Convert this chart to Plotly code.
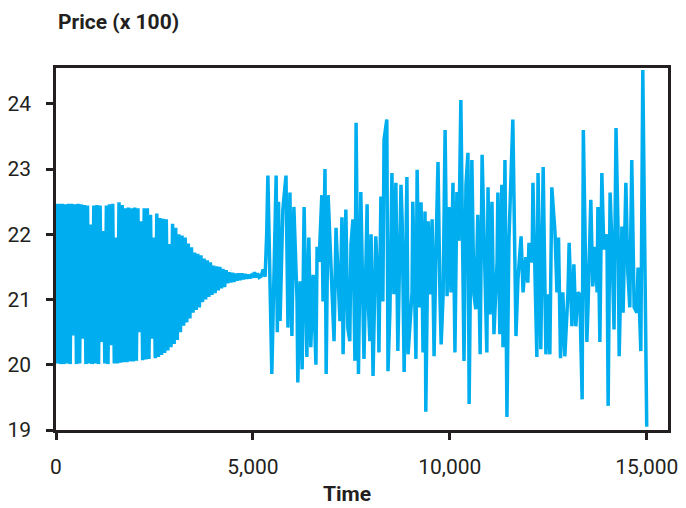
import numpy as np
import plotly.graph_objects as go

# ---- dense oscillating phase (0 .. ~5160): upper / lower swing values, step 80 time units
dense_step = 80
dense_hi = [22.47, 22.47, 22.47, 22.46, 22.47, 22.47, 22.46, 22.47, 22.46, 22.45,
            22.44, 22.15, 22.44, 22.45, 22.44, 22.05, 22.44, 22.46, 22.47, 21.95,
            22.49, 22.45, 22.40, 22.41, 22.40, 22.41, 22.40, 22.20, 22.40, 22.40,
            22.30, 21.95, 22.32, 22.25, 22.24, 22.23, 21.85, 22.16, 22.10, 22.00,
            21.98, 21.95, 21.86, 21.80, 21.72, 21.70, 21.68, 21.63, 21.60, 21.57,
            21.52, 21.51, 21.50, 21.47, 21.45, 21.42, 21.41, 21.40, 21.40, 21.40,
            21.39, 21.38, 21.37, 21.42, 21.40]
dense_lo = [20.02, 20.01, 20.01, 20.02, 20.01, 20.45, 20.01, 20.02, 20.40, 20.01,
            20.02, 20.01, 20.02, 20.01, 20.35, 20.02, 20.01, 20.30, 20.02, 20.02,
            20.03, 20.04, 20.04, 20.05, 20.05, 20.06, 20.50, 20.07, 20.08, 20.09,
            20.40, 20.10, 20.12, 20.15, 20.18, 20.22, 20.27, 20.32, 20.38, 20.50,
            20.60, 20.65, 20.71, 20.80, 20.84, 20.88, 20.96, 21.00, 21.04, 21.07,
            21.10, 21.14, 21.17, 21.19, 21.25, 21.26, 21.27, 21.29, 21.30, 21.31,
            21.32, 21.33, 21.34, 21.34, 21.34]

# ---- volatile phase
vol_time = [5210, 5260, 5310, 5350, 5380, 5480, 5590, 5620, 5650, 5690, 5760, 5840, 5890, 5940,
            5990, 6040, 6120, 6140, 6200, 6250, 6300, 6370, 6420, 6470, 6530, 6600, 6630, 6680,
            6750, 6780, 6830, 6860, 6910, 7010, 7060, 7110, 7160, 7210, 7260, 7290, 7360, 7410,
            7460, 7490, 7540, 7590, 7620, 7680, 7740, 7770, 7820, 7900, 7920, 7970, 8000, 8050,
            8120, 8180, 8200, 8250, 8300, 8330, 8400, 8430, 8480, 8530, 8580, 8630, 8680, 8760,
            8790, 8840, 8910, 8940, 8990, 9040, 9060, 9140, 9170, 9220, 9270, 9320, 9370, 9390,
            9450, 9500, 9550, 9600, 9650, 9700, 9750, 9780, 9830, 9880, 9930, 9980, 10030, 10080,
            10130, 10180, 10230, 10280, 10360, 10410, 10460, 10490, 10540, 10560, 10610, 10660,
            10710, 10770, 10820, 10890, 10940, 10970, 11020, 11070, 11120, 11200, 11220, 11270,
            11320, 11350, 11400, 11450, 11500, 11600, 11680, 11730, 11810, 11860, 11930, 11980,
            12010, 12090, 12110, 12210, 12240, 12310, 12370, 12440, 12490, 12540, 12590, 12670,
            12720, 12760, 12810, 12870, 12920, 13000, 13030, 13100, 13150, 13200, 13250, 13300,
            13360, 13390, 13480, 13510, 13580, 13630, 13690, 13740, 13760, 13810, 13860, 13910,
            13990, 14020, 14070, 14120, 14170, 14220, 14270, 14300, 14370, 14400, 14470, 14520,
            14570, 14620, 14680, 14750, 14780, 14850, 14880, 14900, 15000]
vol_price = [21.36, 21.46, 21.35, 22.00, 22.90, 19.86, 22.90, 20.50, 22.50, 20.67, 22.38, 22.90, 20.57, 22.64,
             20.44, 22.42, 21.00, 19.73, 21.28, 19.93, 22.42, 20.12, 21.95, 20.27, 21.38, 20.00, 21.81, 21.58,
             22.60, 20.97, 23.00, 19.86, 22.60, 20.88, 20.36, 22.10, 21.50, 20.67, 22.26, 20.16, 22.38, 20.57,
             20.36, 21.84, 22.23, 20.06, 23.71, 19.86, 22.65, 21.49, 20.09, 22.46, 21.08, 20.36, 22.00, 19.83,
             21.97, 21.13, 20.19, 22.58, 20.97, 23.45, 23.76, 19.90, 20.85, 22.94, 21.08, 22.79, 20.21, 22.76,
             22.20, 19.89, 22.88, 20.16, 20.67, 21.11, 22.50, 20.09, 22.99, 20.88, 22.49, 20.19, 22.35, 19.28,
             22.20, 21.08, 22.23, 20.13, 21.80, 23.11, 21.03, 20.31, 21.08, 23.60, 21.05, 22.42, 21.11, 22.79,
             20.19, 22.65, 21.90, 24.06, 20.06, 22.76, 23.25, 19.40, 22.30, 23.14, 21.08, 20.85,
             22.30, 20.16, 23.22, 21.38, 20.19, 22.72, 20.77, 22.50, 20.47, 21.58, 22.64, 20.47,
             22.76, 20.27, 23.14, 19.20, 21.89, 23.76, 20.44, 21.31, 21.97, 21.11, 21.65, 21.26,
             21.87, 21.57, 22.79, 20.12, 22.94, 20.24, 23.03, 20.16, 21.08, 20.16, 22.72, 22.04,
             21.11, 21.95, 20.10, 21.11, 20.13, 21.11, 21.87, 20.59, 21.54, 20.59, 21.11, 21.08,
             19.47, 23.60, 20.35, 20.90, 22.53, 21.20, 21.81, 21.11, 22.42, 20.35, 22.94, 21.77,
             22.00, 19.37, 22.64, 21.77, 20.54, 23.63, 22.12, 20.13, 22.12, 20.80, 22.79, 21.42,
             20.88, 23.14, 20.88, 20.80, 21.49, 20.21, 22.56, 24.52, 19.05]

x_tickvals = [0, 5000, 10000, 15000]
x_ticktext = ["0", "5,000", "10,000", "15,000"]
y_tickvals = [19, 20, 21, 22, 23, 24]

# build full series
t_all, p_all = [], []
for k, (hi, lo) in enumerate(zip(dense_hi, dense_lo)):
    t_all += [k * dense_step, k * dense_step + dense_step / 2]
    p_all += [hi, lo]
t_all += vol_time
p_all += vol_price

FONT = "Roboto, Arial, sans-serif"
INK = "#231F20"

fig = go.Figure()
fig.add_trace(go.Scatter(x=t_all, y=p_all, mode="lines",
                         line=dict(color="#00AEEF", width=3.5), hoverinfo="skip"))

fig.update_layout(
    width=686, height=508,
    margin=dict(l=56, r=18, t=68, b=78, autoexpand=False),
    paper_bgcolor="white", plot_bgcolor="white",
    showlegend=False,
    font=dict(family=FONT, color=INK, size=21),
)
fig.update_xaxes(range=[0, 15540], tickvals=x_tickvals, ticktext=x_ticktext,
                 showgrid=False, zeroline=False, showline=True, linecolor=INK,
                 linewidth=2.5, mirror=True, ticks="outside", ticklen=7, tickwidth=2.5,
                 tickcolor=INK, ticklabelstandoff=9, automargin=False)
fig.update_yaxes(range=[19, 24.55], tickvals=y_tickvals,
                 showgrid=False, zeroline=False, showline=True, linecolor=INK,
                 linewidth=2.5, mirror=True, ticks="outside", ticklen=7, tickwidth=2.5,
                 tickcolor=INK, ticklabelstandoff=11, automargin=False)

fig.add_annotation(text="<b>Price (x 100)</b>", xref="paper", yref="paper",
                   x=0.0, y=1.127, xanchor="left", yanchor="middle", showarrow=False,
                   font=dict(family=FONT, size=21, color=INK))
fig.add_annotation(text="<b>Time</b>", xref="paper", yref="paper",
                   x=0.475, y=-0.177, xanchor="center", yanchor="middle", showarrow=False,
                   font=dict(family=FONT, size=21, color=INK))

fig.write_html("out.html", config={"displayModeBar": False},
               post_script="document.body.style.margin='0';document.body.style.overflow='hidden';")
